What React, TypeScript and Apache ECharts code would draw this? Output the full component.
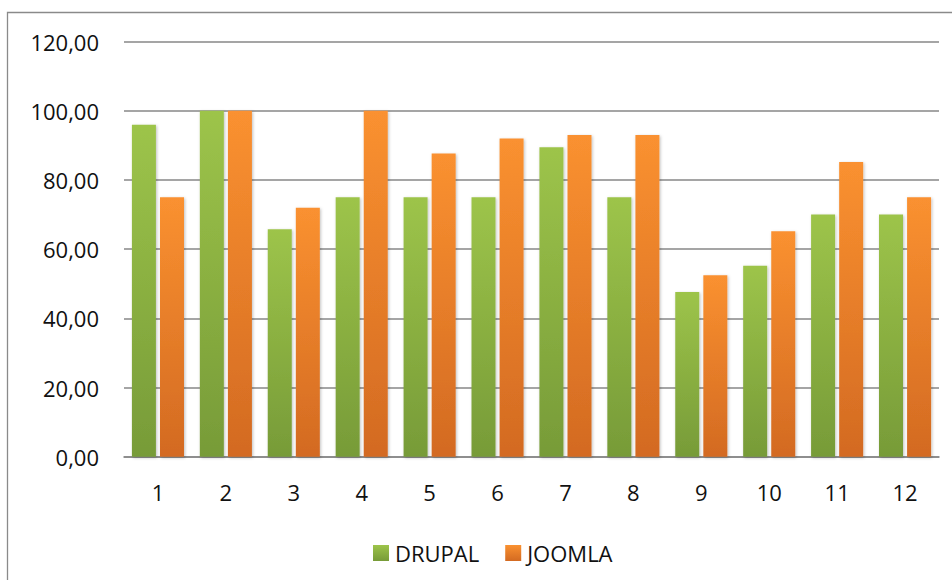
import React, { useEffect, useRef } from "react";
import * as echarts from "echarts";

const categories = ["1", "2", "3", "4", "5", "6", "7", "8", "9", "10", "11", "12"];
const drupal = [96, 100, 65.8, 75, 75, 75, 89.5, 75, 47.6, 55.2, 70, 70];
const joomla = [75, 100, 72, 100, 87.7, 92, 93, 93, 52.5, 65.2, 85.2, 75];
const yTicks = { min: 0, max: 120, interval: 20 };

const FONT = "'Open Sans', 'Noto Sans', sans-serif";

const greenGrad = new echarts.graphic.LinearGradient(0, 0, 0, 1, [
  { offset: 0, color: "#9dc44a" },
  { offset: 1, color: "#779b38" },
]);
const orangeGrad = new echarts.graphic.LinearGradient(0, 0, 0, 1, [
  { offset: 0, color: "#fa9130" },
  { offset: 1, color: "#d36a22" },
]);

export default function App() {
  const ref = useRef<HTMLDivElement>(null);
  useEffect(() => {
    document.body.style.margin = "0";
    if (!ref.current) return;
    const chart = echarts.init(ref.current, null, { renderer: "svg" });
    chart.setOption({
      animation: false,
      backgroundColor: "#ffffff",
      textStyle: { fontFamily: FONT },
      graphic: [
        {
          type: "rect",
          shape: { x: 7.5, y: 12.5, width: 1000, height: 600 },
          style: { fill: "none", stroke: "#8a8a8a", lineWidth: 1.3 },
          silent: true,
          z: -1,
        },
      ],
      grid: { left: 124, right: 13, top: 41.7, bottom: 123.3, containLabel: false },
      legend: {
        left: 368,
        top: 537,
        itemWidth: 16,
        itemHeight: 16,
        itemGap: 26,
        icon: "rect",
        textStyle: { fontFamily: FONT, fontSize: 22, color: "#111111", padding: [0, 0, 0, 1] },
        data: ["DRUPAL", "JOOMLA"],
      },
      xAxis: {
        type: "category",
        data: categories,
        axisLine: { show: true, lineStyle: { color: "#878787", width: 1.6 } },
        axisTick: { show: false },
        axisLabel: { fontFamily: FONT, fontSize: 22, color: "#111111", margin: 24 },
      },
      yAxis: {
        type: "value",
        min: yTicks.min,
        max: yTicks.max,
        interval: yTicks.interval,
        axisLine: { show: false },
        axisTick: { show: false },
        splitLine: { lineStyle: { color: "#878787", width: 1.6 } },
        axisLabel: {
          fontFamily: FONT,
          fontSize: 22,
          color: "#111111",
          margin: 25,
          formatter: (v: number) => v.toFixed(2).replace(".", ","),
        },
      },
      series: [
        {
          name: "DRUPAL",
          type: "bar",
          data: drupal,
          barWidth: 24,
          barGap: "17%",
          itemStyle: {
            color: greenGrad,
            shadowBlur: 3,
            shadowColor: "rgba(0,0,0,0.25)",
            shadowOffsetX: 1,
            shadowOffsetY: 1,
          },
        },
        {
          name: "JOOMLA",
          type: "bar",
          data: joomla,
          barWidth: 24,
          barGap: "17%",
          itemStyle: {
            color: orangeGrad,
            shadowBlur: 3,
            shadowColor: "rgba(0,0,0,0.25)",
            shadowOffsetX: 1,
            shadowOffsetY: 1,
          },
        },
      ],
    });
    return () => chart.dispose();
  }, []);
  return <div ref={ref} style={{ width: 952, height: 580 }} />;
}
